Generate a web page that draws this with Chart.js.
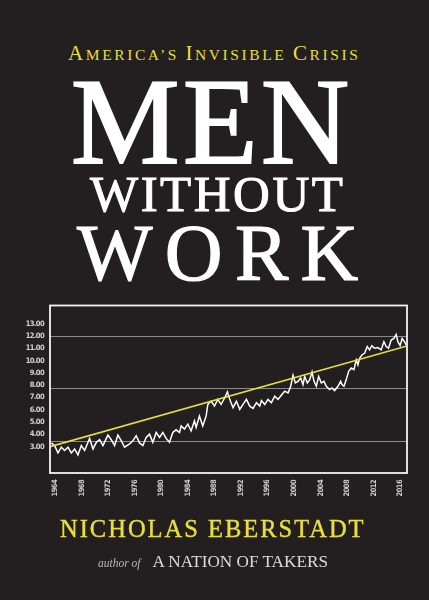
<!DOCTYPE html>
<html>
<head>
<meta charset="utf-8">
<script src="https://cdn.jsdelivr.net/npm/chart.js@4.4.1/dist/chart.umd.min.js"></script>
<style>
    html, body { margin: 0; padding: 0; }
    body {
        width: 429px; height: 600px; overflow: hidden; position: relative;
        background: #231f20;
        font-family: 'Liberation Serif', 'DejaVu Serif', serif;
    }
    .t { position: absolute; white-space: nowrap; line-height: 1; }
    .yellow { color: #e8df3b; }
    .white { color: #ffffff; }
    #kicker { left: 68px; top: 43px; font-size: 15.5px; letter-spacing: 2.6px; }
    #kicker b { font-weight: normal; font-size: 21px; }
    #men { left: 71px; top: 61px; font-size: 122px; letter-spacing: 3.5px; -webkit-text-stroke: 2px #fff; }
    #without { left: 90px; top: 169px; font-size: 51px; letter-spacing: 2.5px; -webkit-text-stroke: 1px #fff; }
    #work { left: 77px; top: 213px; font-size: 80px; letter-spacing: 12.3px; -webkit-text-stroke: 1.2px #fff; }
    #author { left: 60px; top: 517px; font-size: 24.5px; letter-spacing: 2px; -webkit-text-stroke: 0.4px #e8df3b; }
    #other { left: 98px; top: 553px; font-size: 17.2px; color: #dcdcdc; }
    #other i { font-size: 11.5px; color: #b8b8b8; margin-right: 12px; }
    #chartBox { position: absolute; left: 0; top: 295px; width: 429px; height: 230px; }
</style>
</head>
<body>
<div id="kicker" class="t yellow"><b>A</b>MERICA’S <b>I</b>NVISIBLE <b>C</b>RISIS</div>
<div id="men" class="t white">MEN</div>
<div id="without" class="t white">WITHOUT</div>
<div id="work" class="t white">WORK</div>
<div id="chartBox"><canvas id="coverChart"></canvas></div>
<div id="author" class="t yellow">NICHOLAS EBERSTADT</div>
<div id="other" class="t"><i>author of</i>A NATION OF TAKERS</div>

<script>
// values (year, rate)
const years = [
    1963.45, 1963.95, 1964.45, 1964.95, 1965.45, 1965.96, 1966.46, 1966.96, 1967.46, 1967.96,
    1968.46, 1969.21, 1969.72, 1970.22, 1970.72, 1971.22, 1971.97, 1972.47, 1972.97, 1973.47,
    1973.97, 1974.48, 1975.23, 1975.73, 1976.23, 1976.73, 1977.23, 1977.73, 1978.23, 1978.73,
    1979.24, 1979.74, 1980.24, 1980.74, 1981.24, 1981.74, 1982.24, 1982.75, 1983.00, 1983.50,
    1984.00, 1984.50, 1985.00, 1985.25, 1985.75, 1986.25, 1986.76, 1987.01, 1987.51, 1988.01,
    1988.51, 1989.01, 1989.56, 1989.96, 1990.31, 1990.81, 1991.32, 1991.82, 1992.32, 1992.82,
    1993.32, 1993.82, 1994.33, 1994.83, 1995.08, 1995.58, 1996.08, 1996.58, 1997.08, 1997.58,
    1998.08, 1998.58, 1999.09, 1999.49, 1999.84, 2000.19, 2000.59, 2000.99, 2001.34, 2001.59,
    2001.99, 2002.35, 2002.70, 2003.00, 2003.35, 2003.70, 2004.10, 2004.50, 2004.85, 2005.35,
    2005.70, 2006.10, 2006.61, 2007.01, 2007.21, 2007.51, 2007.86, 2008.21, 2008.61, 2009.01,
    2009.36, 2009.61, 2009.86, 2010.21, 2010.61, 2011.01, 2011.36, 2011.71, 2012.11, 2012.61,
    2013.11, 2013.52, 2013.87, 2014.22, 2014.62, 2015.02, 2015.37, 2015.62, 2015.97, 2016.27,
    2016.62, 2016.87
];
const rate = [
    3.30, 3.08, 2.49, 2.95, 2.68, 2.95, 2.49, 2.81, 2.33, 3.08,
    2.68, 3.67, 2.81, 3.35, 3.56, 3.08, 3.94, 3.56, 3.08, 3.94,
    3.48, 2.95, 3.22, 3.48, 3.89, 3.30, 3.08, 3.75, 4.02, 3.35,
    4.15, 3.75, 4.15, 3.67, 3.35, 4.15, 4.37, 4.15, 4.69, 4.43,
    4.83, 4.29, 5.10, 4.56, 5.50, 4.69, 5.50, 6.44, 6.71, 6.31,
    6.85, 6.44, 6.98, 7.46, 6.85, 6.17, 6.70, 6.04, 6.44, 6.85,
    6.30, 6.12, 6.58, 6.30, 6.76, 6.44, 6.85, 6.58, 7.11, 6.85,
    7.19, 7.52, 7.38, 7.92, 8.81, 8.19, 8.32, 8.59, 8.05, 8.72,
    8.19, 8.46, 9.08, 8.32, 7.92, 8.72, 8.19, 8.32, 7.92, 7.65,
    7.78, 7.57, 7.92, 8.32, 8.05, 7.92, 8.46, 9.13, 9.40, 9.27,
    10.07, 9.67, 10.20, 10.47, 10.60, 11.15, 10.88, 11.23, 11.02, 11.07,
    10.88, 11.55, 11.15, 11.02, 11.68, 11.82, 12.14, 11.55, 11.23, 11.82,
    11.55, 11.28
];

// yellow trend line, end points
const trendYears = [1963.25, 2017];
const trendRate = [3.0, 11.2];

const xTicks = [1964, 1968, 1972, 1976, 1980, 1984, 1988, 1992, 1996, 2000, 2004, 2008, 2012, 2016];
const yTicks = [3, 4, 5, 6, 7, 8, 9, 10, 11, 12, 13];
const gridLevels = [3.43, 7.7, 11.95];

const Y_MIN = 0.85, Y_MAX = 14.5;
const tickFont = { family: "'DejaVu Sans Condensed', 'DejaVu Sans', sans-serif", size: 7.5, weight: 'bold' };

// white box round the plot
const framePlugin = {
    id: 'frame',
    afterDraw(chart) {
        const a = chart.chartArea;
        const ctx = chart.ctx;
        ctx.save();
        ctx.strokeStyle = '#f2f2f2';
        ctx.lineWidth = 1.8;
        ctx.strokeRect(a.left, a.top, a.right - a.left, a.bottom - a.top);
        ctx.restore();
    }
};

// tighter tick lettering, like the condensed face on the cover
const tightLabels = {
    id: 'tightLabels',
    beforeDraw(chart) { chart.ctx.letterSpacing = '-0.6px'; },
    afterDraw(chart) { chart.ctx.letterSpacing = '0px'; }
};

const coverChart = {
    chart: null,

    init() {
        const ctx = document.getElementById('coverChart').getContext('2d');
        this.chart = new Chart(ctx, {
            type: 'line',
            data: {
                datasets: [
                    {
                        label: 'trend',
                        data: trendYears.map((x, i) => ({ x, y: trendRate[i] })),
                        borderColor: '#e5e03a',
                        borderWidth: 1.6,
                        pointRadius: 0
                    },
                    {
                        label: 'rate',
                        data: years.map((x, i) => ({ x, y: rate[i] })),
                        borderColor: '#ffffff',
                        borderWidth: 1.5,
                        pointRadius: 0,
                        tension: 0
                    }
                ]
            },
            options: {
                responsive: true,
                maintainAspectRatio: false,
                animation: false,
                layout: { padding: { left: 0, right: 22, top: 8, bottom: 20 } },
                plugins: { legend: { display: false }, tooltip: { enabled: false } },
                scales: {
                    x: {
                        type: 'linear',
                        min: 1963.25,
                        max: 2017,
                        afterBuildTicks: s => { s.ticks = xTicks.map(v => ({ value: v })); },
                        afterFit: s => { s.height = 32; },
                        grid: { display: false, drawTicks: false },
                        border: { display: false },
                        ticks: {
                            autoSkip: false,
                            minRotation: 90,
                            maxRotation: 90,
                            padding: 7,
                            color: '#cdcdcd',
                            font: tickFont,
                            callback: v => String(v)
                        }
                    },
                    y: {
                        min: Y_MIN,
                        max: Y_MAX,
                        afterBuildTicks: s => { s.ticks = yTicks.map(v => ({ value: v })); },
                        afterFit: s => { s.width = 50; },
                        grid: { display: false, drawTicks: false },
                        border: { display: false },
                        ticks: {
                            padding: 6,
                            color: '#d2d2d2',
                            font: tickFont,
                            callback: v => v.toFixed(2)
                        }
                    },
                    yg: {
                        position: 'right',
                        min: Y_MIN,
                        max: Y_MAX,
                        afterBuildTicks: s => { s.ticks = gridLevels.map(v => ({ value: v })); },
                        afterFit: s => { s.width = 0; },
                        grid: { color: '#8a8a8a', lineWidth: 1, drawTicks: false },
                        border: { display: false },
                        ticks: { display: false }
                    }
                }
            },
            plugins: [tightLabels, framePlugin]
        });
    }
};

coverChart.init();
</script>
</body>
</html>
